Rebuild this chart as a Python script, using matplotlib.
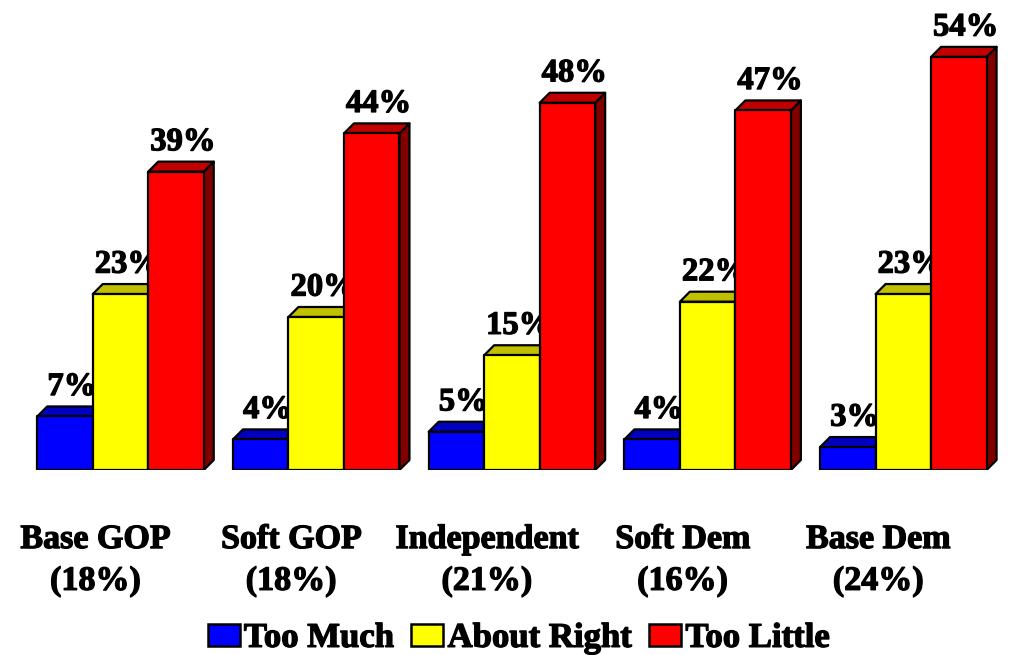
import matplotlib
matplotlib.use("Agg")
import matplotlib.pyplot as plt
from matplotlib.patches import Polygon, Rectangle
import matplotlib.patheffects as pe

categories = ["Base GOP", "Soft GOP", "Independent", "Soft Dem", "Base Dem"]
shares = ["(18%)", "(18%)", "(21%)", "(16%)", "(24%)"]
series_names = ["Too Much", "About Right", "Too Little"]
too_much = [7, 4, 5, 4, 3]
about_right = [23, 20, 15, 22, 23]
too_little = [39, 44, 48, 47, 54]

front_colors = ["#0000ff", "#ffff00", "#ff0000"]
top_colors = ["#0000c0", "#c0c000", "#c00000"]
side_colors = ["#000080", "#808000", "#800000"]

plt.rcParams['font.family'] = ['Liberation Serif', 'DejaVu Serif']
plt.rcParams['font.weight'] = 'bold'
heavy = [pe.withStroke(linewidth=0.9, foreground='black')]

fig = plt.figure(figsize=(10.11, 6.55), dpi=100)
ax = fig.add_axes([0.0224, 0.2824, 0.9679, 0.7008])
ax.set_xlim(-0.5, 4.5)
ax.set_ylim(0, 60)
ax.axis('off')

w = 0.2836
dx = 0.051
dy = 1.31
series = [too_much, about_right, too_little]
z = 1
for i in range(len(categories)):
    for j, vals in enumerate(series):
        v = vals[i]
        x0 = i - 1.5 * w + j * w
        x1 = x0 + w
        ec = dict(edgecolor='black', linewidth=1.6, joinstyle='round')
        side = Polygon([(x1, 0), (x1 + dx, dy), (x1 + dx, v + dy), (x1, v)],
                       closed=True, facecolor=side_colors[j], zorder=z, **ec)
        top = Polygon([(x0, v), (x0 + dx, v + dy), (x1 + dx, v + dy), (x1, v)],
                      closed=True, facecolor=top_colors[j], zorder=z, **ec)
        front = Rectangle((x0, 0), w, v, facecolor=front_colors[j], zorder=z + 0.1, **ec)
        ax.add_patch(side)
        ax.add_patch(top)
        ax.add_patch(front)
        ax.text(x0 + w / 2 + 0.035, v + 2.8, f"{v}%", ha='center', va='baseline',
                fontsize=23.5, fontweight='bold', zorder=z + 0.5, clip_on=False,
                path_effects=heavy)
        z += 1

tr = ax.get_xaxis_transform()
for i, (c, s) in enumerate(zip(categories, shares)):
    ax.text(i - 0.128, -0.170, c, transform=tr, ha='center', va='baseline',
            fontsize=24.5, fontweight='bold', clip_on=False, path_effects=heavy)
    ax.text(i - 0.128, -0.261, s, transform=tr, ha='center', va='baseline',
            fontsize=24.5, fontweight='bold', clip_on=False, path_effects=heavy)

handles = [Rectangle((0, 0), 1, 1, facecolor=front_colors[k], edgecolor='black', linewidth=1.8)
           for k in range(3)]
leg = fig.legend(handles, series_names, loc='lower center', bbox_to_anchor=(0.513, -0.021),
                 ncol=3, frameon=False, fontsize=25, handlelength=0.92, handleheight=0.6,
                 handletextpad=0.12, columnspacing=0.5, borderaxespad=0.0)
for t in leg.get_texts():
    t.set_fontweight('bold')
    t.set_path_effects(heavy)

fig.savefig("out.png", dpi=100)
